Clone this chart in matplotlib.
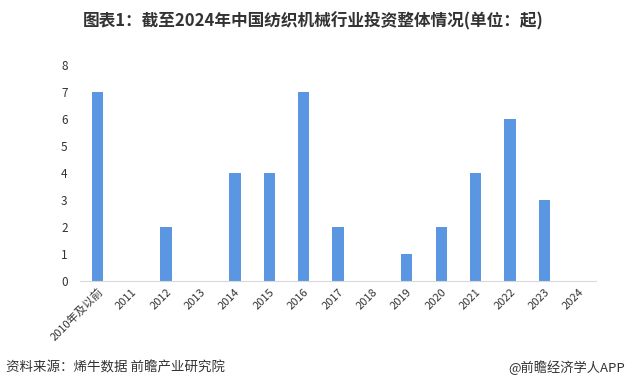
import matplotlib as mpl
mpl.use('Agg')
import matplotlib.pyplot as plt

plt.rcParams['font.family'] = ['Noto Sans CJK SC', 'DejaVu Sans']

categories = ['2010年及以前', '2011', '2012', '2013', '2014', '2015', '2016', '2017',
              '2018', '2019', '2020', '2021', '2022', '2023', '2024']
counts = [7, 0, 2, 0, 4, 4, 7, 2, 0, 1, 2, 4, 6, 3, 0]

fig = plt.figure(figsize=(6.26, 3.9), dpi=100)
ax = fig.add_axes([0.128, 0.2795, 0.824, 0.554])
x = range(len(categories))
ax.bar(x, counts, width=0.33, color='#5B96E3')
ax.set_xlim(-0.5, len(categories) - 0.5)
ax.set_ylim(0, 8)
ax.set_yticks(range(0, 9))
ax.set_xticks(list(x))
ax.set_xticklabels(categories, rotation=45, ha='right', rotation_mode='anchor',
                   fontsize=8, color='#333333')
ax.tick_params(axis='y', labelsize=8.5, colors='#333333', length=0, pad=9)
ax.tick_params(axis='x', length=0, pad=4)
for s in ['top', 'right', 'left']:
    ax.spines[s].set_visible(False)
ax.spines['bottom'].set_color('#d9d9d9')

fig.text(0.5, 0.945, '图表1：截至2024年中国纺织机械行业投资整体情况(单位：起)',
         ha='center', va='center', fontsize=12, fontweight='bold', color='#333333')
fig.text(0.01, 0.058, '资料来源：烯牛数据 前瞻产业研究院', ha='left', va='center',
         fontsize=9.7, color='#333333')
fig.text(0.998, 0.058, '@前瞻经济学人APP', ha='right', va='center',
         fontsize=9.5, color='#333333')

fig.savefig('out.png', dpi=100)
plt.close()
